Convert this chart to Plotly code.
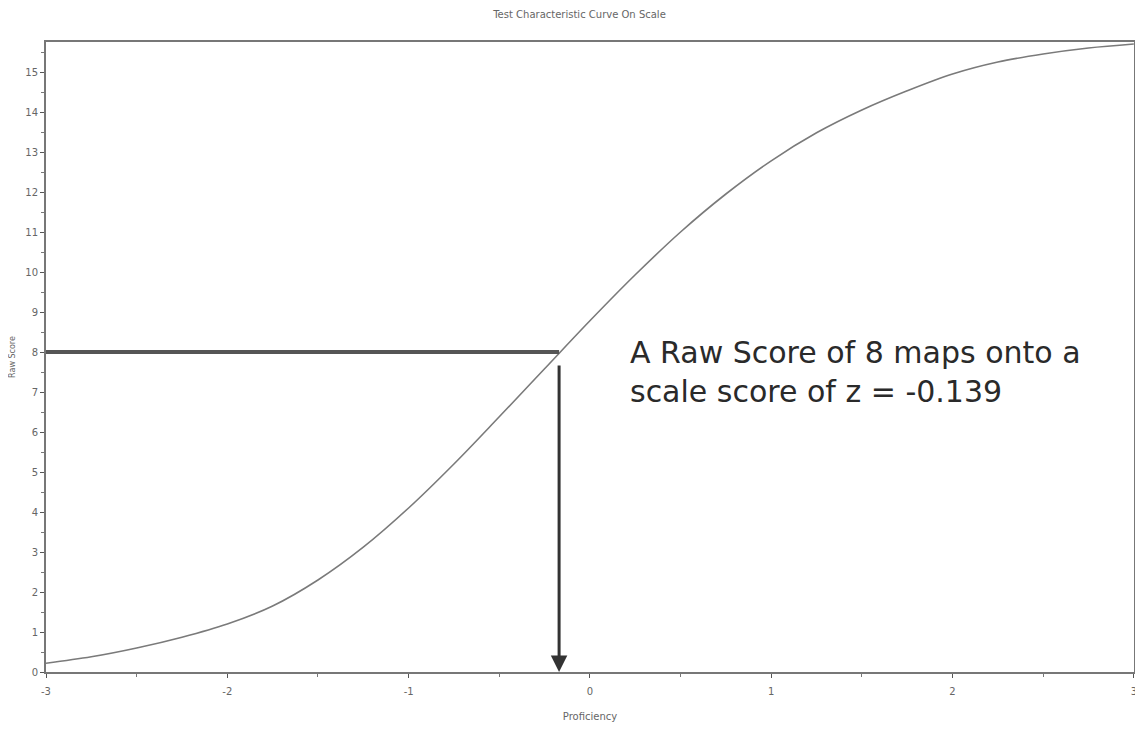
import plotly.graph_objects as go

# Test characteristic curve
theta = [-3, -2.75, -2.5, -2.25, -2, -1.75, -1.5, -1.25, -1, -0.75, -0.5, -0.25, 0,
         0.25, 0.5, 0.75, 1, 1.25, 1.5, 1.75, 2, 2.25, 2.5, 2.75, 3]
raw_score = [0.22, 0.38, 0.6, 0.87, 1.2, 1.65, 2.3, 3.12, 4.1, 5.2, 6.38, 7.58, 8.78,
             9.93, 11.0, 11.95, 12.78, 13.48, 14.05, 14.53, 14.95, 15.25, 15.45, 15.6, 15.7]

raw_target = 8
z_cross = -0.17
x_ticks = [-3, -2, -1, 0, 1, 2, 3]
x_tick_labels = ["-3", "-2", "-1", "0", "1", "2", "3"]
y_ticks = list(range(0, 16))

title_text = "Test Characteristic Curve On Scale"
x_title = "Proficiency"
y_title = "Raw Score"
note_text = "A Raw Score of 8 maps onto a<br>scale score of z = -0.139"

fig = go.Figure()
fig.add_trace(go.Scatter(x=theta, y=raw_score, mode="lines",
                         line=dict(color="#7a7a7a", width=1.6, shape="spline", smoothing=1.0),
                         showlegend=False, hoverinfo="skip"))
# horizontal guide at raw score 8
fig.add_trace(go.Scatter(x=[x_ticks[0], z_cross], y=[raw_target, raw_target], mode="lines",
                         line=dict(color="#555555", width=4), showlegend=False, hoverinfo="skip"))

# vertical arrow down to the axis
fig.add_annotation(x=z_cross, y=0, ax=z_cross, ay=raw_target - 0.3, xref="x", yref="y",
                   axref="x", ayref="y", showarrow=True, arrowhead=2, arrowsize=1.1,
                   arrowwidth=3, arrowcolor="#333333", text="")

fig.add_annotation(x=0.21, y=7.5, xref="x", yref="y", text=note_text, showarrow=False,
                   xanchor="left", yanchor="middle", align="left",
                   font=dict(family="DejaVu Sans", size=30, color="#2a2a2a"))

fig.update_layout(
    width=1143, height=729,
    margin=dict(l=38, r=17, t=34, b=65),
    paper_bgcolor="white", plot_bgcolor="white",
    title=dict(text=title_text, x=0.5, xanchor="center", y=0.996, yanchor="top",
               font=dict(family="DejaVu Sans", size=10, color="#666666")),
    font=dict(family="DejaVu Sans", size=9, color="#666666"),
)
fig.update_xaxes(range=[-3, 3.001], tickvals=x_ticks, ticktext=x_tick_labels,
                 ticks="outside", ticklen=4, automargin=False, ticklabeloverflow="allow",
                 ticklabelstandoff=5,
                 tickcolor="#555555", showgrid=False, zeroline=False,
                 showline=True, linecolor="#777777", linewidth=2, mirror=True,
                 minor=dict(dtick=0.5, ticks="outside", ticklen=3, tickcolor="#777777"),
                 title=dict(text=x_title, font=dict(size=10, color="#666666"), standoff=17),
                 tickfont=dict(size=10, color="#666666"))
fig.update_yaxes(range=[0, 15.75], tickvals=y_ticks, ticks="outside", ticklen=4,
                 automargin=False,
                 tickcolor="#555555", showgrid=False, zeroline=False,
                 showline=True, linecolor="#777777", linewidth=2, mirror=True,
                 minor=dict(dtick=0.5, ticks="outside", ticklen=3, tickcolor="#777777"),
                 title=dict(text=y_title, font=dict(size=8, color="#666666"), standoff=8),
                 tickfont=dict(size=10, color="#666666"))

fig.write_html("out.html")
